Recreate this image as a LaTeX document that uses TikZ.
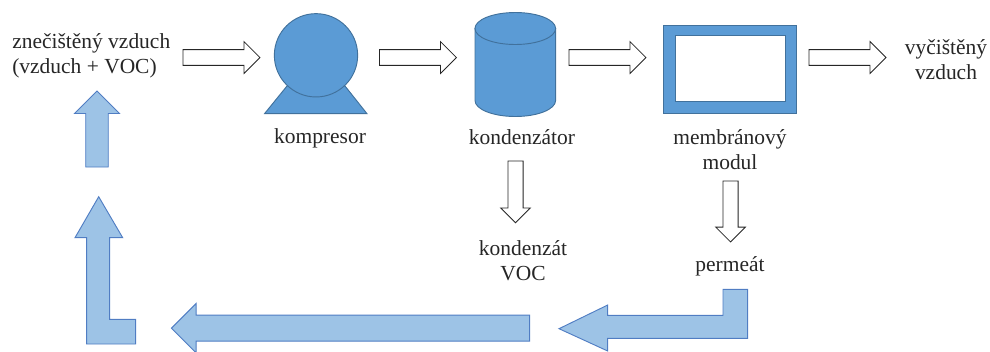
\documentclass[tikz,border=0pt]{standalone}
\usepackage{fontspec}
\setmainfont{Liberation Serif}
\usetikzlibrary{shapes.geometric, shapes.arrows, positioning}
\definecolor{unitblue}{RGB}{91,155,213}
\definecolor{unitedge}{RGB}{65,113,156}
\definecolor{flowblue}{RGB}{157,195,230}
\definecolor{flowedge}{RGB}{80,125,195}
\definecolor{labelgray}{RGB}{38,38,38}

\begin{document}
\begin{tikzpicture}[
    x=0.75pt, y=-0.75pt,
    % styles
    label_text/.style={
        align=center, inner sep=0pt, text=labelgray, font=\fontsize{16.1}{19}\selectfont
    },
    unit/.style={
        draw=unitedge, fill=unitblue, line width=0.7pt, inner sep=0pt, outer sep=0pt
    },
    hollow_arrow/.style={
        shape=single arrow, draw=black!85, fill=white, line width=0.6pt, anchor=tail,
        single arrow head indent=0pt, outer sep=0pt, inner xsep=0pt
    },
    flow_arrow/.style={
        draw=flowedge, fill=flowblue, line width=0.7pt
    },
    flow_straight/.style={
        shape=single arrow, flow_arrow, anchor=tail,
        single arrow head indent=0pt, outer sep=0pt, inner xsep=0pt
    }
]
    \useasboundingbox (0,0) rectangle (990,351);

    % --- 1. UNITS (Top row) ---
    % Compressor stand goes below the circle
    \draw[unit] (264.5,113.7) -- (287,86) -- (345,86) -- (367,113.7) -- cycle;
    \node[unit, circle, minimum size=62.5pt] (compressor) at (316,55.3) {};

    % Condenser body, then its top
    \draw[unit] (475,28.5) -- (475,100.5) arc[start angle=180, end angle=0, x radius=40.3, y radius=16] -- (555.7,28.5) -- cycle;
    \node[unit, ellipse, minimum width=60.5pt, minimum height=24pt] (condenser) at (515.3,28.5) {};

    \node[unit, minimum width=99.5pt, minimum height=66pt] (module) at (729.7,69) {};
    \node[unit, fill=white, minimum width=82.5pt, minimum height=49.3pt] (module_window) at (730,68.8) {};

    % --- 2. LABELS ---
    \node[label_text, align=left, anchor=west] (feed_air) at (12,56) {znečištěný vzduch\\(vzduch + VOC)};
    \node[label_text] (compressor_label) at (320,138) {kompresor};
    \node[label_text] (condenser_label) at (522,137) {kondenzátor};
    \node[label_text] (module_label) at (730,149.5) {membránový\\modul};
    \node[label_text] (clean_air) at (946,59.5) {vyčištěný\\vzduch};
    \node[label_text] (condensate) at (523,261) {kondenzát\\VOC};
    \node[label_text] (permeate) at (730,266) {permeát};

    % --- 3. PROCESS ARROWS (Hollow) ---
    \node[hollow_arrow, inner ysep=5.6pt, single arrow head extend=6pt, minimum height=57.7pt] (feed_arrow) at (183,57.5) {};
    \node[hollow_arrow, inner ysep=5.6pt, single arrow head extend=6pt, minimum height=57.7pt] (compressed_arrow) at (379.5,57.5) {};
    \node[hollow_arrow, inner ysep=5.6pt, single arrow head extend=6pt, minimum height=57.7pt] (retentate_arrow) at (569,57.5) {};
    \node[hollow_arrow, inner ysep=5.6pt, single arrow head extend=6pt, minimum height=57.7pt] (clean_arrow) at (809,57.5) {};
    \node[hollow_arrow, rotate=-90, inner ysep=5.4pt, single arrow head extend=5.4pt, minimum height=46.3pt] (condensate_arrow) at (515.5,161) {};
    \node[hollow_arrow, rotate=-90, inner ysep=5.4pt, single arrow head extend=5.4pt, minimum height=45.7pt] (permeate_arrow) at (730.5,181) {};

    % --- 4. RECYCLE LOOP (Filled) ---
    % Bent arrow from the permeate
    \draw[flow_arrow] (747.7,289.3) -- (723,289.3) -- (723,315.3) -- (607.7,315.3) -- (607.7,305)
        -- (559,328.7) -- (607.7,351) -- (607.7,338.3) -- (747.7,338.3) -- cycle;
    \node[flow_straight, rotate=180, inner ysep=9.4pt, single arrow head extend=8.8pt, minimum height=268.7pt] (return_arrow) at (529.7,328.2) {};
    % Bent arrow going up on the left
    \draw[flow_arrow] (135.7,344) -- (86.7,344) -- (86.7,237.7) -- (75,237.7) -- (98.7,196.7)
        -- (122.7,237.7) -- (109.7,237.7) -- (109.7,319.3) -- (135.7,319.3) -- cycle;
    \node[flow_straight, rotate=90, inner ysep=8.1pt, single arrow head extend=8.4pt, minimum height=57pt] (feed_return_arrow) at (97,167) {};

\end{tikzpicture}
\end{document}
